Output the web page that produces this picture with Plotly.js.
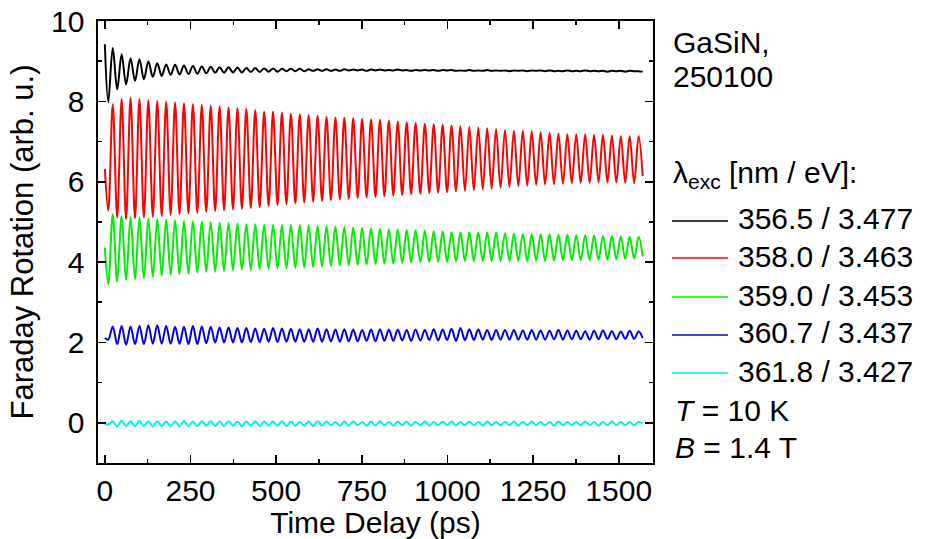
<!DOCTYPE html>
<html>
<head>
<meta charset="utf-8">
<script src="https://cdn.plot.ly/plotly-3.0.1.min.js"></script>
<style>html,body{margin:0;padding:0;background:#fff;}#chart{width:926px;height:539px;}</style>
</head>
<body>
<div id="chart"></div>
<script>
// Time of each sample (start, alternating trough/peak extrema, end), ps
const timePs = [0, 10, 23, 36, 49, 62, 75, 88, 101, 114, 127, 140, 153, 166, 179, 192, 205, 218, 231, 244, 257,
  270, 283, 296, 309, 322, 335, 348, 361, 374, 387, 400, 413, 426, 439, 452, 465, 478, 491, 504, 517,
  530, 543, 556, 569, 582, 595, 608, 621, 634, 647, 660, 673, 686, 699, 712, 725, 738, 751, 764, 777,
  790, 803, 816, 829, 842, 855, 868, 881, 894, 907, 921, 934, 947, 960, 973, 986, 999, 1012, 1025, 1038,
  1051, 1064, 1077, 1090, 1103, 1116, 1129, 1142, 1155, 1168, 1181, 1194, 1207, 1220, 1233, 1246, 1259, 1272, 1285, 1298,
  1311, 1324, 1337, 1350, 1363, 1376, 1389, 1402, 1415, 1428, 1441, 1454, 1467, 1480, 1493, 1506, 1519, 1532, 1545, 1558, 1570];

const seriesLabels = ["356.5 / 3.477", "358.0 / 3.463", "359.0 / 3.453", "360.7 / 3.437", "361.8 / 3.427"];
const seriesColors = ["#000000", "#ff0000", "#00ee00", "#0000ee", "#00f0f0"];

// Start value, end value, troughs and peaks
const black_start = 9.42, black_end = 8.74;
const black_troughs = [7.98, 8.30, 8.42, 8.51, 8.55, 8.61, 8.63, 8.66, 8.67, 8.68, 8.69, 8.70, 8.71, 8.71, 8.72, 8.72, 8.73, 8.73, 8.74, 8.74,
  8.75, 8.75, 8.75, 8.76, 8.76, 8.76, 8.76, 8.77, 8.77, 8.76, 8.77, 8.77, 8.77, 8.77, 8.76, 8.77, 8.77, 8.76, 8.77, 8.76,
  8.76, 8.76, 8.76, 8.76, 8.76, 8.75, 8.76, 8.75, 8.76, 8.75, 8.75, 8.75, 8.75, 8.75, 8.75, 8.75, 8.74, 8.75, 8.74, 8.75];
const black_peaks = [9.33, 9.17, 9.07, 9.05, 8.99, 8.95, 8.92, 8.91, 8.89, 8.88, 8.87, 8.86, 8.85, 8.85, 8.84, 8.83, 8.83, 8.82, 8.82, 8.81,
  8.81, 8.81, 8.80, 8.80, 8.80, 8.79, 8.80, 8.79, 8.79, 8.79, 8.79, 8.78, 8.79, 8.78, 8.78, 8.78, 8.78, 8.78, 8.78, 8.77,
  8.78, 8.77, 8.78, 8.77, 8.77, 8.77, 8.77, 8.77, 8.77, 8.77, 8.76, 8.77, 8.76, 8.77, 8.76, 8.76, 8.76, 8.76, 8.76, 8.75];

const red_start = 6.32, red_end = 6.14;
const red_troughs = [5.28, 5.11, 5.07, 5.09, 5.11, 5.13, 5.15, 5.17, 5.19, 5.21, 5.23, 5.25, 5.27, 5.29, 5.31, 5.33, 5.35, 5.37, 5.40, 5.42,
  5.44, 5.46, 5.48, 5.50, 5.52, 5.54, 5.56, 5.57, 5.59, 5.61, 5.62, 5.64, 5.66, 5.67, 5.69, 5.70, 5.72, 5.73, 5.74, 5.76,
  5.77, 5.79, 5.81, 5.83, 5.85, 5.87, 5.89, 5.90, 5.92, 5.93, 5.94, 5.95, 5.96, 5.97, 5.97, 5.98, 5.98, 5.98, 5.97, 5.96];
const red_peaks = [7.93, 8.05, 8.09, 8.06, 8.03, 8.01, 7.99, 7.97, 7.95, 7.93, 7.91, 7.89, 7.87, 7.85, 7.83, 7.81, 7.78, 7.74, 7.74, 7.72,
  7.70, 7.68, 7.66, 7.64, 7.62, 7.60, 7.59, 7.58, 7.57, 7.55, 7.54, 7.52, 7.50, 7.48, 7.46, 7.44, 7.43, 7.42, 7.40, 7.38,
  7.37, 7.35, 7.33, 7.31, 7.29, 7.27, 7.27, 7.26, 7.24, 7.22, 7.20, 7.18, 7.18, 7.18, 7.17, 7.17, 7.15, 7.14, 7.14, 7.14];

const green_start = 4.36, green_end = 4.14;
const green_troughs = [3.45, 3.52, 3.55, 3.57, 3.60, 3.63, 3.66, 3.68, 3.70, 3.71, 3.74, 3.76, 3.76, 3.78, 3.80, 3.81, 3.81, 3.82, 3.83, 3.84,
  3.84, 3.85, 3.86, 3.87, 3.88, 3.90, 3.91, 3.92, 3.93, 3.94, 3.95, 3.96, 3.96, 3.98, 3.99, 4.00, 4.00, 4.01, 4.01, 4.02,
  4.03, 4.03, 4.03, 4.03, 4.03, 4.03, 4.03, 4.03, 4.04, 4.03, 4.04, 4.05, 4.05, 4.05, 4.05, 4.06, 4.06, 4.07, 4.08, 4.09];
const green_peaks = [5.19, 5.15, 5.12, 5.11, 5.09, 5.07, 5.06, 5.04, 5.02, 5.02, 5.01, 5.00, 4.98, 4.97, 4.96, 4.94, 4.94, 4.93, 4.92, 4.92,
  4.92, 4.92, 4.91, 4.90, 4.89, 4.88, 4.87, 4.86, 4.85, 4.84, 4.83, 4.82, 4.81, 4.80, 4.79, 4.78, 4.77, 4.76, 4.75, 4.74,
  4.74, 4.74, 4.74, 4.74, 4.72, 4.71, 4.70, 4.69, 4.69, 4.69, 4.68, 4.68, 4.67, 4.67, 4.66, 4.65, 4.65, 4.64, 4.63, 4.63];

const blue_start = 2.11, blue_end = 2.11;
const blue_troughs = [2.07, 1.96, 1.94, 1.96, 1.96, 1.97, 1.97, 1.97, 1.97, 1.96, 1.96, 1.98, 2.00, 2.00, 2.00, 2.00, 2.01, 2.01, 2.02, 2.01,
  2.02, 2.02, 2.02, 2.02, 2.02, 2.03, 2.02, 2.03, 2.03, 2.04, 2.03, 2.04, 2.04, 2.05, 2.04, 2.05, 2.06, 2.05, 2.06, 2.04,
  2.06, 2.06, 2.07, 2.06, 2.07, 2.07, 2.07, 2.07, 2.07, 2.07, 2.08, 2.07, 2.08, 2.08, 2.07, 2.08, 2.09, 2.08, 2.09, 2.09];
const blue_peaks = [2.40, 2.41, 2.40, 2.41, 2.43, 2.43, 2.41, 2.39, 2.39, 2.41, 2.40, 2.39, 2.37, 2.37, 2.36, 2.36, 2.35, 2.34, 2.36, 2.35,
  2.34, 2.33, 2.33, 2.35, 2.33, 2.32, 2.33, 2.32, 2.31, 2.32, 2.33, 2.32, 2.32, 2.31, 2.32, 2.31, 2.33, 2.32, 2.34, 2.36,
  2.33, 2.32, 2.31, 2.31, 2.31, 2.31, 2.30, 2.31, 2.30, 2.29, 2.31, 2.30, 2.29, 2.28, 2.29, 2.30, 2.28, 2.27, 2.29, 2.27];

const cyan_start = -0.03, cyan_end = -0.02;
const cyan_troughs = [-0.05, -0.09, -0.08, -0.09, -0.08, -0.09, -0.08, -0.08, -0.09, -0.08, -0.08, -0.07, -0.08, -0.08, -0.07, -0.08, -0.07, -0.08, -0.07, -0.07,
  -0.08, -0.07, -0.07, -0.08, -0.07, -0.06, -0.07, -0.07, -0.06, -0.07, -0.07, -0.06, -0.07, -0.06, -0.07, -0.06, -0.07, -0.06, -0.06, -0.07,
  -0.06, -0.06, -0.07, -0.06, -0.06, -0.06, -0.07, -0.06, -0.06, -0.06, -0.07, -0.06, -0.06, -0.06, -0.06, -0.07, -0.06, -0.06, -0.06, -0.06];
const cyan_peaks = [0.04, 0.05, 0.04, 0.05, 0.04, 0.04, 0.03, 0.04, 0.05, 0.03, 0.04, 0.04, 0.03, 0.04, 0.03, 0.03, 0.04, 0.03, 0.03, 0.04,
  0.03, 0.02, 0.03, 0.04, 0.03, 0.02, 0.03, 0.03, 0.02, 0.03, 0.04, 0.02, 0.03, 0.03, 0.02, 0.03, 0.02, 0.03, 0.03, 0.02,
  0.03, 0.02, 0.03, 0.02, 0.02, 0.03, 0.02, 0.03, 0.02, 0.02, 0.03, 0.02, 0.02, 0.03, 0.02, 0.02, 0.03, 0.02, 0.02, 0.02];

const xTickVals = [0, 250, 500, 750, 1000, 1250, 1500];
const yTickVals = [0, 2, 4, 6, 8, 10];

function assemble(start, troughs, peaks, end) {
  const out = [start];
  for (let i = 0; i < troughs.length; i++) { out.push(troughs[i]); out.push(peaks[i]); }
  out.push(end);
  return out;
}

const allY = [
  assemble(black_start, black_troughs, black_peaks, black_end),
  assemble(red_start, red_troughs, red_peaks, red_end),
  assemble(green_start, green_troughs, green_peaks, green_end),
  assemble(blue_start, blue_troughs, blue_peaks, blue_end),
  assemble(cyan_start, cyan_troughs, cyan_peaks, cyan_end)
];

const FONT = "Liberation Sans, Arial, sans-serif";
const traces = allY.map((ys, i) => ({
  type: "scatter", mode: "lines", x: timePs, y: ys, name: seriesLabels[i],
  line: {color: seriesColors[i], width: 2, shape: "spline", smoothing: 1},
  showlegend: false, hoverinfo: "skip"
}));

// pixel -> paper helpers for the side panel
const L = 98, R = 653, T = 21, B = 463;
const px = x => (x - L) / (R - L);
const py = y => (B - y) / (B - T);

const annotations = [];
const shapes = [];
const txt = (text, x, y, size) => annotations.push({
  text: text, xref: "paper", yref: "paper", x: px(x), y: py(y), xanchor: "left", yanchor: "middle",
  showarrow: false, font: {family: FONT, size: size || 30, color: "#000"}
});
txt("GaSiN,", 671, 42);
txt("250100", 671, 76);
txt("λ<sub>exc</sub> [nm / eV]:", 671, 174);
const rowY = [221, 258, 297, 335, 373];
seriesLabels.forEach((lab, i) => {
  shapes.push({type: "line", xref: "paper", yref: "paper", x0: px(672), x1: px(728), y0: py(rowY[i]), y1: py(rowY[i]),
    line: {color: seriesColors[i], width: 1.3}});
  txt(lab, 736, rowY[i] - 2);
});
txt("<i>T</i> = 10 K", 673, 410);
txt("<i>B</i> = 1.4 T", 673, 447);

const axisCommon = {
  showline: true, linecolor: "#000", linewidth: 1.6, mirror: "allticks",
  ticks: "inside", ticklen: 8, tickwidth: 1.6, tickcolor: "#000",
  showgrid: false, zeroline: false,
  tickfont: {family: FONT, size: 30, color: "#000"}
};

const layout = {
  width: 926, height: 539,
  margin: {l: L, r: 926 - R, t: T, b: 539 - B, pad: 0},
  paper_bgcolor: "#fff", plot_bgcolor: "#fff",
  showlegend: false,
  xaxis: Object.assign({}, axisCommon, {
    range: [-20, 1600], tickvals: xTickVals,
    minor: {dtick: 125, tick0: 0, ticks: "inside", ticklen: 4, tickwidth: 1.6, tickcolor: "#000"},
    title: {text: "Time Delay (ps)", font: {family: FONT, size: 30, color: "#000"}, standoff: 2}
  }),
  yaxis: Object.assign({}, axisCommon, {
    range: [-1, 10], tickvals: yTickVals, ticklabelstandoff: 6,
    minor: {dtick: 1, tick0: 0, ticks: "inside", ticklen: 4, tickwidth: 1.6, tickcolor: "#000"},
    title: {text: "Faraday Rotation (arb. u.)", font: {family: FONT, size: 31, color: "#000"}, standoff: 8}
  }),
  annotations: annotations,
  shapes: shapes
};

Plotly.newPlot("chart", traces, layout, {staticPlot: true, displayModeBar: false});
</script>
</body>
</html>
